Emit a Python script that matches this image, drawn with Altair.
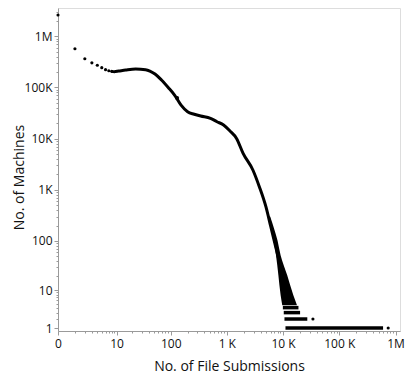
import altair as alt
import pandas as pd

# ---- data ----
# isolated points at small submission counts
low_subs = [0, 1, 2, 3, 4, 5, 6, 7, 8]
low_machines = [2600000, 570000, 363000, 302000, 271000, 243000, 222000, 212000, 206000]

# dense curve (merged points)
curve_subs = [8, 9, 11, 15, 23, 35, 42, 52, 68, 90, 117, 153, 200, 263, 343, 512,
              669, 876, 1140, 1490, 1950, 2910, 3790, 4960, 6060, 7410, 8450]
curve_machines = [206000, 203000, 209000, 219000, 229000, 222000, 209000, 183000,
                  140000, 100000, 71000, 45000, 33500, 30000, 27600, 24900, 21400,
                  18500, 14100, 10100, 5160, 2440, 1150, 467, 189, 76, 42]

# spreading tail (many x values per small y)
wedge_machines = [300, 100, 52, 20.7, 7.8, 4.6]
wedge_left = [5400, 6800, 7500, 8260, 9050, 9680]
wedge_right = [5900, 8000, 9050, 11830, 15200, 17700]

# horizontal bands at the smallest counts
band_machines = [4, 3, 2, 1]
band_start = [9930, 10300, 10600, 11050]
band_end = [18800, 20100, 27000, 600000]

# stray points
stray_subs = [130, 34000, 740000]
stray_machines = [62000, 2, 1]
stray_size = [16, 10, 10]

# axis ticks
x_major = [0, 10, 100, 1000, 10000, 100000, 1000000]
x_labels = ["0", "10", "100", "1 K", "10 K", "100 K", "1M"]
y_major = [1, 10, 100, 1000, 10000, 100000, 1000000]
y_labels = ["1", "10", "100", "1K", "10K", "100K", "1M"]

x_minor = list(range(1, 10)) + [k * 10 ** d for d in range(1, 6) for k in range(2, 10)]
y_minor = [k * 10 ** d for d in range(0, 6) for k in range(2, 10)] + [2000000, 3000000]


def label_expr(vals, labs):
    expr = "''"
    for v, l in reversed(list(zip(vals, labs))):
        expr = f"datum.value == {v} ? '{l}' : ({expr})"
    return expr


def major_test(vals):
    return "indexof([" + ",".join(str(v) for v in vals) + "], datum.value) >= 0"


FONT = "Open Sans"

x_scale = alt.Scale(type="symlog", constant=1, domain=[0, 1200000], nice=False)
y_scale = alt.Scale(type="symlog", constant=1, domain=[0.75, 3560000], nice=False)

x_axis = alt.Axis(
    values=sorted(set(x_major + x_minor)),
    labelExpr=label_expr(x_major, x_labels),
    labelOverlap=False, labelFlush=False, grid=False,
    domainColor="#9a9a9a", tickColor="#9a9a9a",
    tickSize={"condition": {"test": major_test(x_major), "value": 4}, "value": 2},
    labelPadding=3, labelFont=FONT, labelFontSize=12, labelColor="#111",
    title="No. of File Submissions", titleFont=FONT, titleFontSize=14,
    titleFontWeight="normal", titleColor="#111",
    titleBaseline="alphabetic", titleY=39,
)
y_axis = alt.Axis(
    values=sorted(set(y_major + y_minor)),
    labelExpr=label_expr(y_major, y_labels),
    labelOverlap=False, labelFlush=False, grid=False,
    domainColor="#9a9a9a", tickColor="#9a9a9a",
    tickSize={"condition": {"test": major_test(y_major), "value": 4}, "value": 2},
    labelPadding=2, labelFont=FONT, labelFontSize=12, labelColor="#111",
    title="No. of Machines", titleFont=FONT, titleFontSize=14,
    titleFontWeight="normal", titleColor="#111",
    titleBaseline="alphabetic", titleAngle=-90, titleX=-35, titleY=169,
)

X = lambda: alt.X("subs:Q", scale=x_scale, axis=x_axis)
Y = lambda: alt.Y("machines:Q", scale=y_scale, axis=y_axis)

low_df = pd.DataFrame({"subs": low_subs, "machines": low_machines})
curve_df = pd.DataFrame({"subs": curve_subs, "machines": curve_machines})
wedge_df = pd.DataFrame({"subs": wedge_left, "subs_end": wedge_right, "machines": wedge_machines})
band_df = pd.DataFrame({"subs": band_start, "subs_end": band_end, "machines": band_machines})
stray_df = pd.DataFrame({"subs": stray_subs, "machines": stray_machines, "size": stray_size})

low = alt.Chart(low_df).mark_circle(size=10, color="black", opacity=1).encode(x=X(), y=Y())
curve = alt.Chart(curve_df).mark_line(color="black", strokeWidth=3, interpolate="monotone").encode(
    x=X(), y=Y(), order="subs:Q")
wedge = alt.Chart(wedge_df).mark_area(color="black", orient="horizontal", opacity=1,
                                      interpolate="monotone").encode(
    y=Y(), x=X(), x2="subs_end:Q")
bands = alt.Chart(band_df).mark_rule(color="black", strokeWidth=3.5).encode(
    x=X(), x2="subs_end:Q", y=Y())
stray = alt.Chart(stray_df).mark_circle(color="black", opacity=1).encode(
    x=X(), y=Y(), size=alt.Size("size:Q", scale=None, legend=None))

chart = alt.layer(curve, wedge, bands, low, stray).properties(
    width=342, height=323,
    autosize=alt.AutoSizeParams(type="none"),
    padding={"left": 50, "top": 0, "right": 5, "bottom": 43},
).configure_view(stroke=None).configure(background="white")

chart.save("out.html", embed_options={"renderer": "svg", "actions": False})
